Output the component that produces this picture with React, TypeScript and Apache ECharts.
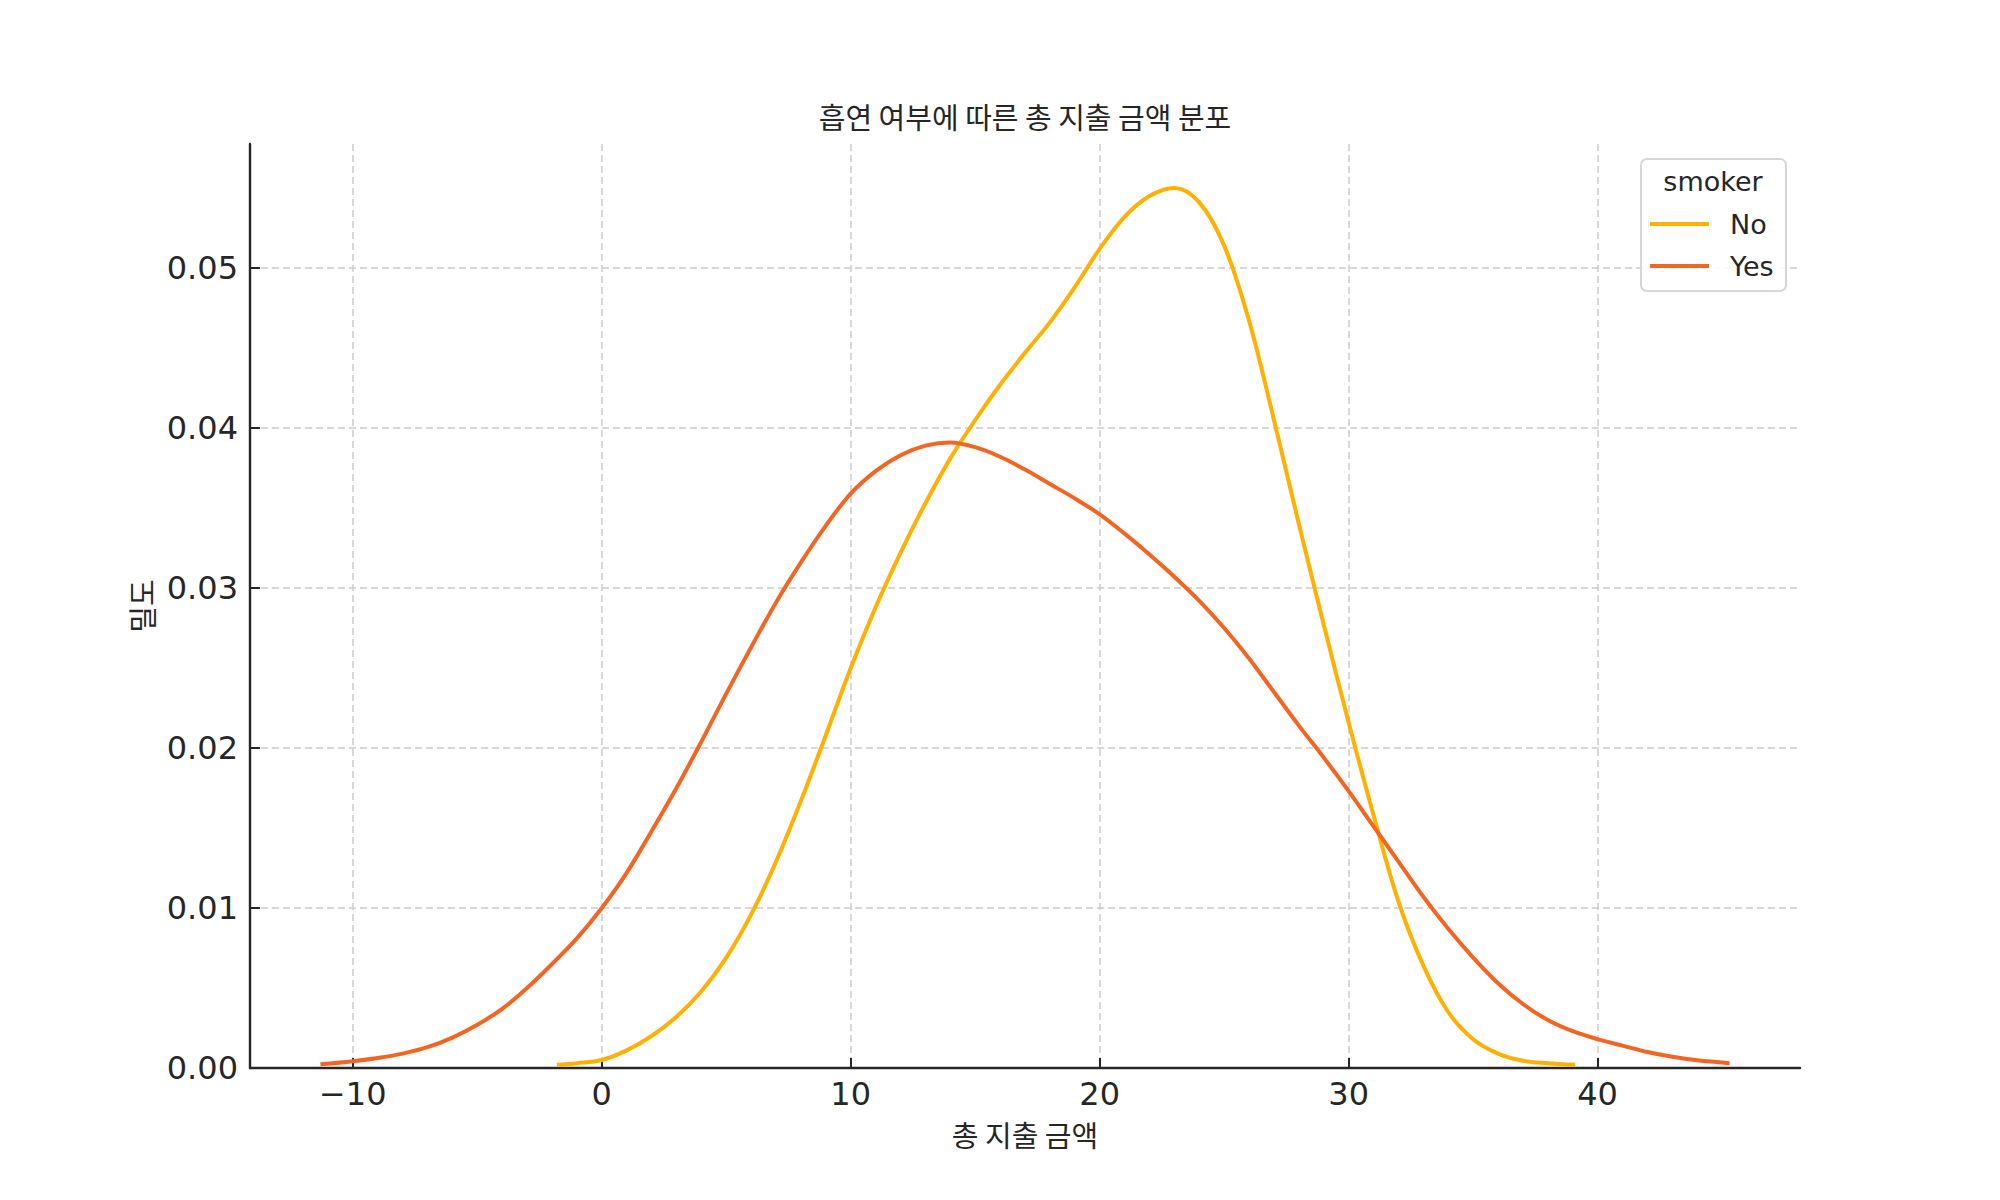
import React, { useEffect, useRef } from "react";
import * as echarts from "echarts";

const titleText = "흡연 여부에 따른 총 지출 금액 분포";
const xName = "총 지출 금액";
const yName = "밀도";
const legendTitle = "smoker";
const seriesNames = ["No", "Yes"];

const xTicks = [-10, 0, 10, 20, 30, 40];
const yTicks = [0, 0.01, 0.02, 0.03, 0.04, 0.05];

const noX = [-1.8, -1, 0, 1, 2, 3, 4, 5, 6, 7, 8, 9, 10, 11, 12, 13, 14, 15, 16, 17, 18, 19, 20, 21, 22, 23, 24, 25, 26, 27, 28, 29, 30, 31, 32, 33, 34, 35, 36, 37, 38, 39.1];
const noY = [0.0002, 0.0003, 0.0005, 0.0011, 0.002, 0.0032, 0.0048, 0.0069, 0.0096, 0.0129, 0.0167, 0.0208, 0.025, 0.0288, 0.0322, 0.0353, 0.0381, 0.0405, 0.0427, 0.0447, 0.0466, 0.0488, 0.0512, 0.0532, 0.0545, 0.055, 0.0541, 0.0514, 0.0467, 0.0405, 0.034, 0.0277, 0.0216, 0.0158, 0.0104, 0.0064, 0.0035, 0.0018, 0.0009, 0.00045, 0.0003, 0.0002];

const yesX = [-11.3, -10, -9, -8, -7, -6, -5, -4, -3, -2, -1, 0, 1, 2, 3, 4, 5, 6, 7, 8, 9, 10, 11, 12, 13, 14, 15, 16, 17, 18, 19, 20, 21, 22, 23, 24, 25, 26, 27, 28, 29, 30, 31, 32, 33, 34, 35, 36, 37, 38, 39, 40, 41, 42, 43, 44, 45.3];
const yesY = [0.00023, 0.00042, 0.00062, 0.0009, 0.0013, 0.0019, 0.0027, 0.0037, 0.005, 0.0065, 0.0081, 0.01, 0.0122, 0.0148, 0.0175, 0.0204, 0.0234, 0.0263, 0.0291, 0.0316, 0.0339, 0.0359, 0.0373, 0.0383, 0.0389, 0.0391, 0.0388, 0.0382, 0.0374, 0.0365, 0.0356, 0.0346, 0.0334, 0.0321, 0.0307, 0.0292, 0.0275, 0.0256, 0.0235, 0.0214, 0.0194, 0.0173, 0.0151, 0.0129, 0.0107, 0.0087, 0.0069, 0.0053, 0.004, 0.003, 0.0023, 0.0018, 0.0014, 0.001, 0.0007, 0.00048, 0.0003];

const colors = ["#ffb000", "#f26522"];

const latin = "'DejaVu Sans', sans-serif";
const korean = "'Noto Sans CJK KR', sans-serif";

export default function App() {
  const ref = useRef<HTMLDivElement>(null);
  useEffect(() => {
    document.body.style.margin = "0";
    const chart = echarts.init(ref.current!, null, { renderer: "svg" });
    const pairs = (xs: number[], ys: number[]) => xs.map((x, i) => [x, ys[i]]);
    chart.setOption({
      animation: false,
      backgroundColor: "#ffffff",
      title: {
        text: titleText,
        left: 1025,
        top: 101,
        textAlign: "center",
        padding: 0,
        textStyle: { fontFamily: korean, fontSize: 29, fontWeight: "normal", color: "#262626" },
      },
      grid: { left: 250, right: 200, top: 144, bottom: 132, containLabel: false, outerBoundsMode: "none" },
      xAxis: {
        type: "value",
        min: -14.13,
        max: 48.13,
        name: xName,
        nameLocation: "middle",
        nameGap: 51,
        nameTextStyle: { fontFamily: korean, fontSize: 29, color: "#262626" },
        axisLine: { show: true, onZero: false, lineStyle: { color: "#262626", width: 2.4 } },
        axisTick: { show: true, inside: true, length: 10, customValues: xTicks, lineStyle: { color: "#262626", width: 2 } },
        axisLabel: {
          customValues: xTicks,
          fontFamily: latin,
          fontSize: 32,
          color: "#262626",
          margin: 10,
          formatter: (v: number) => (v < 0 ? "\u2212" + Math.abs(v) : String(v)),
        },
        splitLine: { show: true, customValues: xTicks, lineStyle: { color: "#cccccc", width: 1.5, type: [7, 4] } },
      },
      yAxis: {
        type: "value",
        min: 0,
        max: 0.05775,
        interval: 0.01,
        name: yName,
        nameLocation: "middle",
        nameGap: 94,
        nameRotate: 90,
        nameTextStyle: { fontFamily: korean, fontSize: 29, color: "#262626" },
        axisLine: { show: true, onZero: false, lineStyle: { color: "#262626", width: 2.4 } },
        axisTick: { show: true, inside: true, length: 10, customValues: yTicks, lineStyle: { color: "#262626", width: 2 } },
        axisLabel: {
          customValues: yTicks,
          fontFamily: latin,
          fontSize: 32,
          color: "#262626",
          margin: 12,
          formatter: (v: number) => v.toFixed(2),
        },
        splitLine: { show: true, lineStyle: { color: "#cccccc", width: 1.5, type: [7, 4] } },
      },
      legend: {
        orient: "vertical",
        left: 1650,
        top: 209,
        padding: 0,
        itemWidth: 59,
        itemHeight: 4,
        itemGap: 12,
        icon: "rect",
        z: 20,
        data: seriesNames,
        textStyle: { fontFamily: latin, fontSize: 27, color: "#262626", lineHeight: 30, padding: [0, 0, 0, 16] },
      },
      graphic: [
        {
          type: "rect",
          z: 15,
          shape: { x: 1641, y: 159, width: 145, height: 132, r: 6 },
          style: { fill: "rgba(255,255,255,0.85)", stroke: "#d6d6d6", lineWidth: 2 },
        },
        {
          type: "text",
          z: 16,
          x: 1713,
          y: 181,
          style: {
            text: legendTitle,
            fontFamily: latin,
            fontSize: 27,
            fill: "#262626",
            align: "center",
            verticalAlign: "middle",
          },
        },
      ],
      series: [
        {
          name: seriesNames[0],
          type: "line",
          data: pairs(noX, noY),
          smooth: 0.35,
          showSymbol: false,
          symbol: "none",
          lineStyle: { color: colors[0], width: 4 },
          itemStyle: { color: colors[0] },
        },
        {
          name: seriesNames[1],
          type: "line",
          data: pairs(yesX, yesY),
          smooth: 0.35,
          showSymbol: false,
          symbol: "none",
          lineStyle: { color: colors[1], width: 4 },
          itemStyle: { color: colors[1] },
        },
      ],
    });
    return () => chart.dispose();
  }, []);
  return <div ref={ref} style={{ width: 2000, height: 1200 }} />;
}
